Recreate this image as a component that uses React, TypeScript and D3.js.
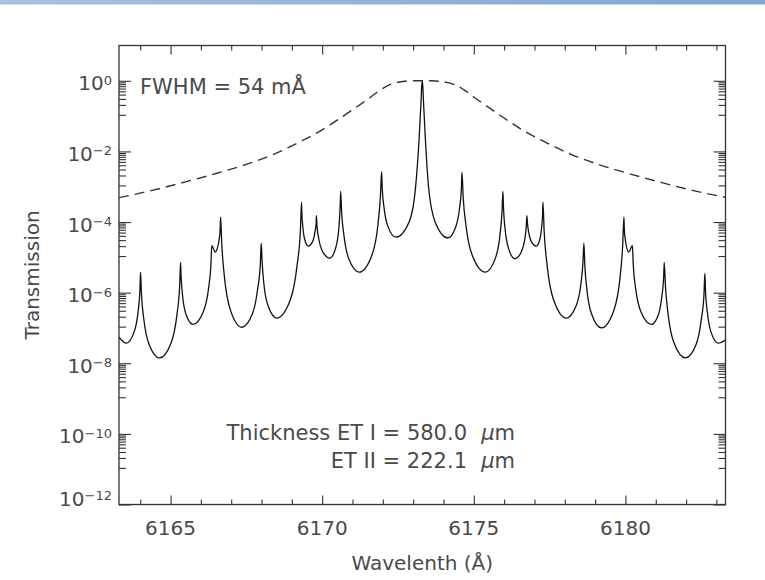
import React, { useRef, useEffect } from 'react';
import * as d3 from 'd3';

const W = 765;
const H = 580;
const plot = { left: 119, right: 725.5, top: 45.5, bottom: 504.5 };

// combined etalon transmission, wavelength in Å and log10 of transmission
const solidWave = [
  6163.30, 6163.54, 6163.80, 6163.93, 6163.99, 6164.01, 6164.04, 6164.12, 6164.29, 6164.64,
  6165.02, 6165.21, 6165.30, 6165.33, 6165.35, 6165.40, 6165.51, 6165.74, 6166.08, 6166.25,
  6166.33, 6166.36, 6166.47, 6166.62, 6166.64, 6166.65, 6166.69, 6166.78, 6166.97, 6167.35,
  6167.70, 6167.87, 6167.96, 6167.99, 6168.02, 6168.08, 6168.22, 6168.50, 6168.95, 6169.17,
  6169.28, 6169.32, 6169.33, 6169.36, 6169.42, 6169.54, 6169.69, 6169.76, 6169.80, 6169.81,
  6169.83, 6169.89, 6170.01, 6170.25, 6170.45, 6170.55, 6170.59, 6170.61, 6170.64, 6170.72,
  6170.88, 6171.22, 6171.63, 6171.83, 6171.92, 6171.96, 6171.98, 6172.04, 6172.17, 6172.43,
  6172.87, 6173.08, 6173.20, 6173.26, 6173.28, 6173.30, 6173.32, 6173.34, 6173.40, 6173.51,
  6173.73, 6174.15, 6174.40, 6174.53, 6174.59, 6174.61, 6174.65, 6174.75, 6174.96, 6175.38,
  6175.70, 6175.86, 6175.93, 6175.96, 6175.98, 6176.03, 6176.14, 6176.35, 6176.57, 6176.68,
  6176.73, 6176.75, 6176.77, 6176.81, 6176.89, 6177.06, 6177.18, 6177.24, 6177.27, 6177.28,
  6177.32, 6177.42, 6177.63, 6178.05, 6178.37, 6178.53, 6178.60, 6178.63, 6178.66, 6178.73,
  6178.89, 6179.21, 6179.62, 6179.82, 6179.91, 6179.95, 6179.96, 6179.98, 6180.11, 6180.23,
  6180.26, 6180.34, 6180.51, 6180.86, 6181.09, 6181.20, 6181.26, 6181.28, 6181.32, 6181.41,
  6181.60, 6181.98, 6182.33, 6182.50, 6182.59, 6182.62, 6182.64, 6182.70, 6182.82, 6183.06,
  6183.30,
];
const solidLog = [
  -7.26, -7.43, -7.11, -6.53, -5.92, -5.42, -6.03, -6.76, -7.46, -7.85,
  -7.42, -6.63, -5.82, -5.14, -5.58, -6.11, -6.62, -6.90, -6.54, -5.90,
  -5.23, -4.67, -4.85, -4.40, -4.11, -3.86, -4.64, -5.58, -6.48, -6.98,
  -6.60, -5.91, -5.20, -4.60, -5.13, -5.77, -6.38, -6.72, -6.20, -5.24,
  -4.26, -3.44, -3.75, -4.12, -4.48, -4.68, -4.54, -4.29, -4.04, -3.82,
  -4.12, -4.48, -4.83, -5.02, -4.72, -4.17, -3.60, -3.13, -3.70, -4.39,
  -5.05, -5.42, -4.96, -4.14, -3.28, -2.57, -3.04, -3.59, -4.13, -4.43,
  -3.99, -3.01, -1.59, -0.58, -0.18, 0.0, -0.18, -0.58, -1.60, -3.03,
  -4.01, -4.45, -4.15, -3.61, -3.06, -2.59, -3.30, -4.15, -4.97, -5.42,
  -5.05, -4.39, -3.70, -3.13, -3.61, -4.18, -4.73, -5.04, -4.84, -4.49,
  -4.13, -3.82, -4.04, -4.29, -4.54, -4.68, -4.48, -4.12, -3.75, -3.44,
  -4.26, -5.24, -6.20, -6.72, -6.38, -5.77, -5.13, -4.60, -5.20, -5.92,
  -6.62, -7.00, -6.50, -5.59, -4.65, -3.86, -4.11, -4.40, -4.85, -4.67,
  -5.23, -5.90, -6.54, -6.90, -6.62, -6.11, -5.58, -5.14, -5.82, -6.63,
  -7.42, -7.85, -7.47, -6.77, -6.05, -5.45, -5.95, -6.54, -7.11, -7.43,
  -7.34,
];

// prefilter profile (dashed)
const dashWave = [
  6163.30, 6164.36, 6165.46, 6166.56, 6167.45, 6168.32, 6169.37, 6169.90, 6170.47, 6171.05,
  6171.57, 6171.90, 6172.23, 6172.66, 6173.00, 6173.30, 6173.60, 6173.94, 6174.37, 6174.70,
  6175.03, 6175.55, 6176.13, 6176.70, 6177.23, 6178.28, 6179.15, 6180.04, 6181.14, 6182.24,
  6183.30,
];
const dashLog = [
  -3.31, -3.11, -2.87, -2.61, -2.38, -2.11, -1.68, -1.44, -1.13, -0.79,
  -0.48, -0.27, -0.11, -0.02, 0.0, 0.0, 0.0, -0.02, -0.11, -0.27,
  -0.48, -0.79, -1.13, -1.44, -1.68, -2.11, -2.38, -2.61, -2.87, -3.11,
  -3.30,
];

const xMajor = [6165, 6170, 6175, 6180];
const xMinor = [6164, 6166, 6167, 6168, 6169, 6171, 6172, 6173, 6174, 6176, 6177, 6178, 6179, 6181, 6182, 6183];
const yMajorExp = [0, -2, -4, -6, -8, -10, -12];

const font = '"DejaVu Sans", Arial, sans-serif';
const textColor = '#4a4a4a';

const App = () => {
  const svgRef = useRef<SVGSVGElement>(null);

  useEffect(() => {
    const svg = d3.select(svgRef.current);
    svg.selectAll('*').remove();

    const x = d3.scaleLinear().domain([6163.3, 6183.3]).range([plot.left, plot.right]);
    const y = d3.scaleLog().domain([1e-12, 10]).range([plot.bottom, plot.top]);

    // header strip
    const grad = svg.append('defs').append('linearGradient').attr('id', 'hdr');
    grad.append('stop').attr('offset', '0%').attr('stop-color', '#a7c1e2');
    grad.append('stop').attr('offset', '100%').attr('stop-color', '#7ea6d1');
    svg.append('rect').attr('x', 0).attr('y', 0).attr('width', W).attr('height', 4.5).attr('fill', 'url(#hdr)');

    svg.append('clipPath').attr('id', 'plotclip')
      .append('rect')
      .attr('x', plot.left).attr('y', plot.top)
      .attr('width', plot.right - plot.left).attr('height', plot.bottom - plot.top);

    // y minor ticks: linear steps inside every two-decade interval
    const yMajor = yMajorExp.map(e => Math.pow(10, e));
    const yMinor: number[] = [];
    for (let i = 0; i < yMajor.length - 1; i++) {
      const hi = yMajor[i];
      const lo = yMajor[i + 1];
      for (let k = 1; k < 10; k++) yMinor.push(lo + (k * (hi - lo)) / 10);
    }

    const axes = svg.append('g').attr('color', '#333');
    const put = (axis: any, tx: number, ty: number) => {
      const g = axes.append('g').attr('transform', `translate(${tx},${ty})`).call(axis);
      g.select('.domain').remove();
      g.selectAll('line').attr('stroke-width', 1.1);
    };
    const none = () => '';
    put(d3.axisBottom(x).tickValues(xMajor).tickSize(-9).tickFormat(none), 0, plot.bottom);
    put(d3.axisBottom(x).tickValues(xMinor).tickSize(-5).tickFormat(none), 0, plot.bottom);
    put(d3.axisTop(x).tickValues(xMajor).tickSize(-9).tickFormat(none), 0, plot.top);
    put(d3.axisTop(x).tickValues(xMinor).tickSize(-5).tickFormat(none), 0, plot.top);
    put(d3.axisLeft(y).tickValues(yMajor).tickSize(-12).tickFormat(none), plot.left, 0);
    put(d3.axisLeft(y).tickValues(yMinor).tickSize(-7).tickFormat(none), plot.left, 0);
    put(d3.axisRight(y).tickValues(yMajor).tickSize(-12).tickFormat(none), plot.right, 0);
    put(d3.axisRight(y).tickValues(yMinor).tickSize(-7).tickFormat(none), plot.right, 0);

    svg.append('rect')
      .attr('x', plot.left).attr('y', plot.top)
      .attr('width', plot.right - plot.left).attr('height', plot.bottom - plot.top)
      .attr('fill', 'none').attr('stroke', '#333').attr('stroke-width', 1.3);

    // curves
    const dashData = dashWave.map((w, i) => [w, Math.pow(10, dashLog[i])] as [number, number]);
    const solidData = solidWave.map((w, i) => [w, Math.pow(10, solidLog[i])] as [number, number]);
    const curve = d3.line<[number, number]>()
      .x(d => x(d[0]))
      .y(d => y(d[1]))
      .curve(d3.curveMonotoneX);

    const lines = svg.append('g').attr('clip-path', 'url(#plotclip)');
    lines.append('path')
      .attr('d', curve(dashData))
      .attr('fill', 'none')
      .attr('stroke', '#333')
      .attr('stroke-width', 1.4)
      .attr('stroke-dasharray', '10 6');
    lines.append('path')
      .attr('d', curve(solidData))
      .attr('fill', 'none')
      .attr('stroke', '#111')
      .attr('stroke-width', 1.3)
      .attr('stroke-linejoin', 'round');

    const txt = svg.append('g').attr('font-family', font).attr('fill', textColor);

    // x labels
    txt.selectAll('.xl')
      .data(xMajor)
      .join('text')
      .attr('class', 'xl')
      .attr('x', d => x(d))
      .attr('y', 535)
      .attr('font-size', 20)
      .attr('text-anchor', 'middle')
      .text(d => d);

    // y labels with superscript exponent
    yMajorExp.forEach((e, i) => {
      const last = i === yMajorExp.length - 1;
      const t = txt.append('text')
        .attr('x', 112)
        .attr('y', y(Math.pow(10, e)) + (last ? 1 : 9.5))
        .attr('font-size', 20)
        .attr('text-anchor', 'end');
      t.append('tspan').text('10');
      t.append('tspan')
        .attr('font-size', 13)
        .attr('dy', -5.5)
        .text(e === 0 ? '0' : `\u2212${Math.abs(e)}`);
    });

    txt.append('text')
      .attr('x', (plot.left + plot.right) / 2)
      .attr('y', 570)
      .attr('font-size', 20)
      .attr('text-anchor', 'middle')
      .text('Wavelenth (Å)');

    txt.append('text')
      .attr('transform', `translate(39,${(plot.top + plot.bottom) / 2}) rotate(-90)`)
      .attr('font-size', 20)
      .attr('text-anchor', 'middle')
      .text('Transmission');

    // annotations
    txt.append('text').attr('x', 140).attr('y', 93.5).attr('font-size', 21).text('FWHM = 54 mÅ');
    txt.append('text').attr('x', 467).attr('y', 440).attr('font-size', 21).attr('text-anchor', 'end').text('Thickness ET I = 580.0');
    txt.append('text').attr('x', 467).attr('y', 468).attr('font-size', 21).attr('text-anchor', 'end').text('ET II = 222.1');
    [440, 468].forEach(by => {
      const t = txt.append('text').attr('x', 515).attr('y', by).attr('font-size', 21).attr('text-anchor', 'end');
      t.append('tspan').attr('font-style', 'italic').text('μ');
      t.append('tspan').text('m');
    });
  }, []);

  return (
    <svg
      ref={svgRef}
      width={W}
      height={H}
      style={{ position: 'absolute', left: 0, top: 0, background: '#fff' }}
    />
  );
};

export default App;
